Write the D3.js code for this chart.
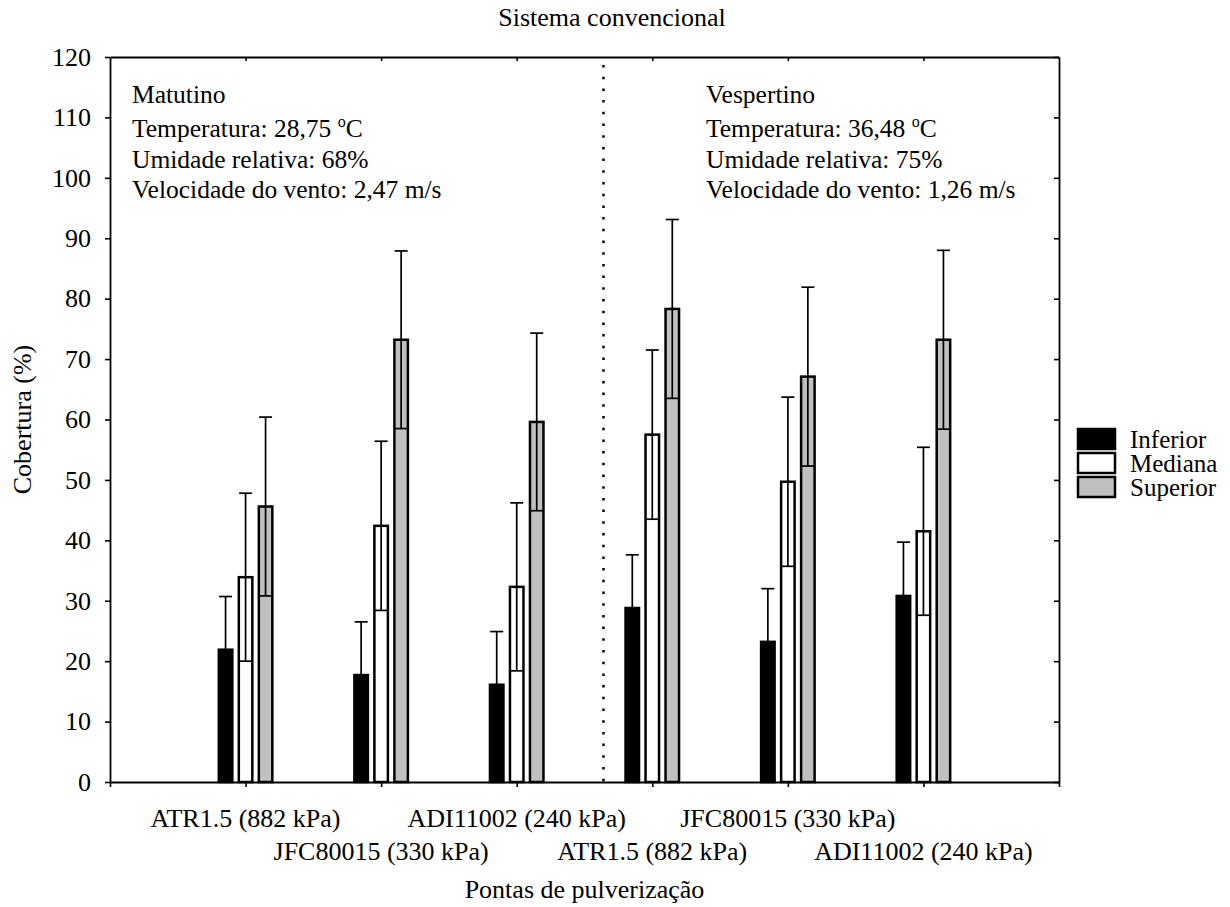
<!DOCTYPE html>
<html>
<head>
<meta charset="utf-8">
<script src="https://cdn.jsdelivr.net/npm/d3@7"></script>
<style>
  body { margin: 0; background: #fff; }
  text { font-family: "Liberation Serif", "Times New Roman", serif; fill: #000; }
</style>
</head>
<body>
<div id="canvas"></div>
<script>
// data
const categories = ["ATR1.5 (882 kPa)", "JFC80015 (330 kPa)", "ADI11002 (240 kPa)",
                    "ATR1.5 (882 kPa)", "JFC80015 (330 kPa)", "ADI11002 (240 kPa)"];
const seriesNames = ["Inferior", "Mediana", "Superior"];
const inferior = [21.9, 17.7, 16.1, 28.8, 23.2, 30.8];
const inferiorErr = [8.8, 8.8, 8.8, 8.8, 8.8, 8.9];
const mediana = [33.9, 42.4, 32.3, 57.5, 49.7, 41.5];
const medianaErr = [13.9, 14.0, 13.9, 14.0, 14.0, 13.9];
const superior = [45.6, 73.2, 59.6, 78.3, 67.1, 73.2];
const superiorErr = [14.8, 14.7, 14.7, 14.8, 14.8, 14.8];
const yTicks = [0, 10, 20, 30, 40, 50, 60, 70, 80, 90, 100, 110, 120];
const matutinoText = ["Matutino", "Temperatura: 28,75 ", "Umidade relativa: 68%", "Velocidade do vento: 2,47 m/s"];
const vespertinoText = ["Vespertino", "Temperatura: 36,48 ", "Umidade relativa: 75%", "Velocidade do vento: 1,26 m/s"];

const width = 1230;
const height = 907;
const plotLeft = 110, plotRight = 1059, plotTop = 57, plotBottom = 782;

const svg = d3.select("#canvas")
    .append("svg")
    .attr("width", width)
    .attr("height", height);

const x = d3.scaleLinear().domain([-1, 6]).range([plotLeft, plotRight]);
const y = d3.scaleLinear().domain([0, 120]).range([plotBottom, plotTop]);

const fills = ["#000000", "#ffffff", "#c0c0c0"];
const values = [inferior, mediana, superior];
const errs = [inferiorErr, medianaErr, superiorErr];

// axes
const axisStyle = g => {
    g.select(".domain").attr("stroke", "#000").attr("stroke-width", 1.8);
    g.selectAll(".tick line").attr("stroke", "#000").attr("stroke-width", 1.6);
};

svg.append("g")
    .attr("transform", `translate(${plotLeft},0)`)
    .call(d3.axisLeft(y).tickValues(yTicks).tickSize(5).tickSizeOuter(0).tickPadding(14))
    .call(axisStyle)
    .call(g => g.selectAll(".tick text")
        .attr("font-size", 26)
        .attr("font-family", "'Liberation Serif', 'Times New Roman', serif")
        .attr("fill", "#000"));

svg.append("g")
    .attr("transform", `translate(${plotRight},0)`)
    .call(d3.axisLeft(y).tickValues(yTicks).tickSize(5).tickSizeOuter(0).tickFormat(""))
    .call(axisStyle);

svg.append("g")
    .attr("transform", `translate(0,${plotBottom})`)
    .call(d3.axisBottom(x).tickValues([-1, 0, 1, 2, 3, 4, 5, 6]).tickSize(5).tickSizeOuter(0).tickFormat(""))
    .call(axisStyle);

svg.append("g")
    .attr("transform", `translate(0,${plotTop})`)
    .call(d3.axisBottom(x).tickValues([0, 1, 2, 3, 4, 5]).tickSize(4).tickSizeOuter(0).tickFormat(""))
    .call(axisStyle);

// category labels in two staggered rows
svg.selectAll(".catlabel")
    .data(categories)
    .enter().append("text")
    .attr("x", (d, i) => x(i))
    .attr("y", (d, i) => i % 2 === 0 ? 827 : 860)
    .attr("text-anchor", "middle")
    .attr("font-size", 26)
    .text(d => d);

// dotted separator between Matutino and Vespertino
svg.append("line")
    .attr("x1", x(2.64)).attr("x2", x(2.64))
    .attr("y1", plotTop + 8).attr("y2", plotBottom)
    .attr("stroke", "#000")
    .attr("stroke-width", 2.5)
    .attr("stroke-dasharray", "2.5,9.2");

// bars
const barW = 13.5;
const capW = 13;
values.forEach((vals, k) => {
    svg.selectAll(".bar" + k)
        .data(vals)
        .enter().append("rect")
        .attr("x", (d, i) => x(i) + (k - 1) * 20 - barW / 2)
        .attr("y", d => y(d))
        .attr("width", barW)
        .attr("height", d => y(0) - y(d))
        .attr("fill", fills[k])
        .attr("stroke", "#000")
        .attr("stroke-width", 2.5);
});

// error bars drawn over the bars
values.forEach((vals, k) => {
    vals.forEach((v, i) => {
        const cx = x(i) + (k - 1) * 20;
        const e = errs[k][i];
        const g = svg.append("g").attr("stroke", "#000").attr("stroke-width", 1.7);
        g.append("line").attr("x1", cx).attr("x2", cx).attr("y1", y(v - e)).attr("y2", y(v + e));
        g.append("line").attr("x1", cx - capW / 2).attr("x2", cx + capW / 2).attr("y1", y(v + e)).attr("y2", y(v + e));
        g.append("line").attr("x1", cx - capW / 2).attr("x2", cx + capW / 2).attr("y1", y(v - e)).attr("y2", y(v - e));
    });
});

// condition notes
function notes(lines, x0) {
    const baselines = [103, 137, 168, 198];
    lines.forEach((t, i) => {
        const txt = svg.append("text")
            .attr("x", x0)
            .attr("y", baselines[i])
            .attr("font-size", 25.5)
            .text(t);
        if (i === 1) {
            txt.append("tspan").attr("font-size", 16).attr("dy", -10).text("o");
            txt.append("tspan").attr("dy", 10).text("C");
        }
    });
}
notes(matutinoText, 132);
notes(vespertinoText, 706);

// legend
const legend = svg.append("g");
seriesNames.forEach((name, k) => {
    legend.append("rect")
        .attr("x", 1078).attr("y", 429 + k * 24)
        .attr("width", 37).attr("height", 20)
        .attr("fill", fills[k])
        .attr("stroke", "#000")
        .attr("stroke-width", 2.5);
    legend.append("text")
        .attr("x", 1130).attr("y", 448 + k * 24)
        .attr("font-size", 25)
        .text(name);
});

// titles
svg.append("text")
    .attr("x", 612).attr("y", 26)
    .attr("text-anchor", "middle")
    .attr("font-size", 26)
    .text("Sistema convencional");

svg.append("text")
    .attr("x", (plotLeft + plotRight) / 2).attr("y", 898)
    .attr("text-anchor", "middle")
    .attr("font-size", 26)
    .text("Pontas de pulverização");

svg.append("text")
    .attr("transform", `translate(31,${(plotTop + plotBottom) / 2}) rotate(-90)`)
    .attr("text-anchor", "middle")
    .attr("font-size", 26)
    .text("Cobertura (%)");
</script>
</body>
</html>
